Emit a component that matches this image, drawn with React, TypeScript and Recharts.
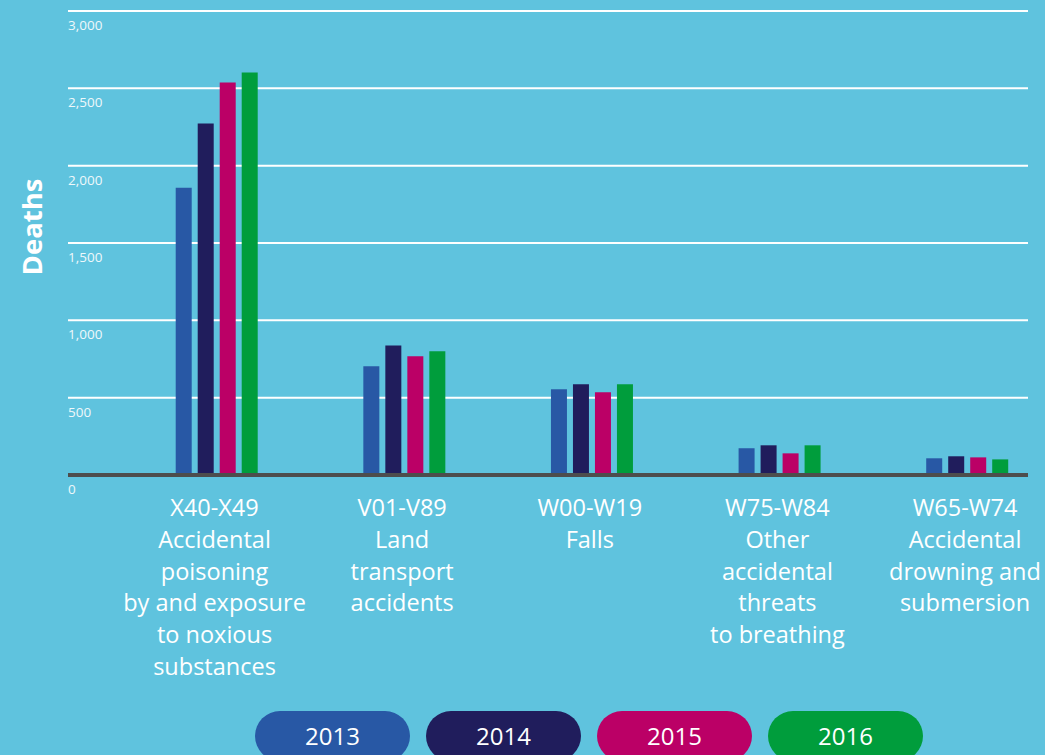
import React from "react";
import { BarChart, Bar, XAxis, YAxis, CartesianGrid } from "recharts";

// category code + description lines, as printed under each group
const categoryLines = [
  ["X40-X49", "Accidental", "poisoning", "by and exposure", "to noxious", "substances"],
  ["V01-V89", "Land", "transport", "accidents"],
  ["W00-W19", "Falls"],
  ["W75-W84", "Other", "accidental", "threats", "to breathing"],
  ["W65-W74", "Accidental", "drowning and", "submersion"],
];

const years = ["2013", "2014", "2015", "2016"];
const deaths2013 = [1858, 703, 554, 173, 108];
const deaths2014 = [2273, 838, 586, 192, 121];
const deaths2015 = [2538, 767, 535, 140, 114];
const deaths2016 = [2603, 800, 586, 192, 101];
const yTicks = [0, 500, 1000, 1500, 2000, 2500, 3000];

const colors = ["#2858a5", "#201d5c", "#bb0066", "#009d3c"];
const font = "'Open Sans', 'DejaVu Sans', sans-serif";

const data = categoryLines.map((lines, i) => ({
  idx: i,
  code: lines[0],
  y2013: deaths2013[i],
  y2014: deaths2014[i],
  y2015: deaths2015[i],
  y2016: deaths2016[i],
}));

const CategoryTick = (props: any) => {
  const { x, y, payload } = props;
  const lines = categoryLines[Math.round(payload.value)] ?? [];
  return (
    <text x={x - 2} y={y} textAnchor="middle" fill="#ffffff" fontSize={23.5} fontFamily={font}>
      {lines.map((l, k) => (
        <tspan key={k} x={x - 2} dy={k === 0 ? 41 : 31.8}>
          {l}
        </tspan>
      ))}
    </text>
  );
};

const ValueTick = (props: any) => {
  const { x, y, payload } = props;
  return (
    <text x={x} y={y + 19} textAnchor="start" fill="#eef8fb" fontSize={13.5} fontFamily={font}>
      {payload.value.toLocaleString("en-US")}
    </text>
  );
};

const DeathsLabel = (props: any) => {
  const vb = props.viewBox;
  const cx = vb.x + vb.width - 26;
  const cy = vb.y + vb.height / 2 - 16;
  return (
    <text
      x={cx}
      y={cy}
      transform={`rotate(-90, ${cx}, ${cy})`}
      textAnchor="middle"
      fill="#ffffff"
      fontSize={27.5}
      fontWeight={700}
      fontFamily={font}
    >
      Deaths
    </text>
  );
};

export default function App() {
  return (
    <div
      style={{
        position: "absolute",
        left: 0,
        top: 0,
        width: 1045,
        height: 755,
        overflow: "hidden",
        background: "#5fc3de",
        fontFamily: font,
      }}
    >
      <BarChart width={1045} height={755} data={data} margin={{ top: 11, right: 17, bottom: 250, left: 8 }} barGap={6}>
        <CartesianGrid vertical={false} stroke="#ffffff" strokeWidth={2} />
        <XAxis
          type="number"
          dataKey="idx"
          domain={[-0.7916, 4.325]}
          ticks={[0, 1, 2, 3, 4]}
          interval={0}
          allowDataOverflow
          height={30}
          tickLine={false}
          tickSize={0}
          tickMargin={0}
          axisLine={{ stroke: "#4d4d4d", strokeWidth: 4 }}
          tick={<CategoryTick />}
        />
        <YAxis
          width={60}
          domain={[0, 3000]}
          ticks={yTicks}
          interval={0}
          axisLine={false}
          tickLine={false}
          tickSize={0}
          tickMargin={0}
          tick={<ValueTick />}
          label={{ content: <DeathsLabel /> }}
        />
        {years.map((yr, i) => (
          <Bar key={yr} dataKey={`y${yr}`} name={yr} fill={colors[i]} barSize={16} isAnimationActive={false} />
        ))}
      </BarChart>
      {years.map((yr, i) => (
        <div
          key={yr}
          style={{
            position: "absolute",
            top: 711,
            left: 255 + i * 171,
            width: 155,
            height: 50,
            borderRadius: 25,
            background: colors[i],
            color: "#ffffff",
            fontSize: 24,
            lineHeight: "50px",
            textAlign: "center",
          }}
        >
          {yr}
        </div>
      ))}
    </div>
  );
}
